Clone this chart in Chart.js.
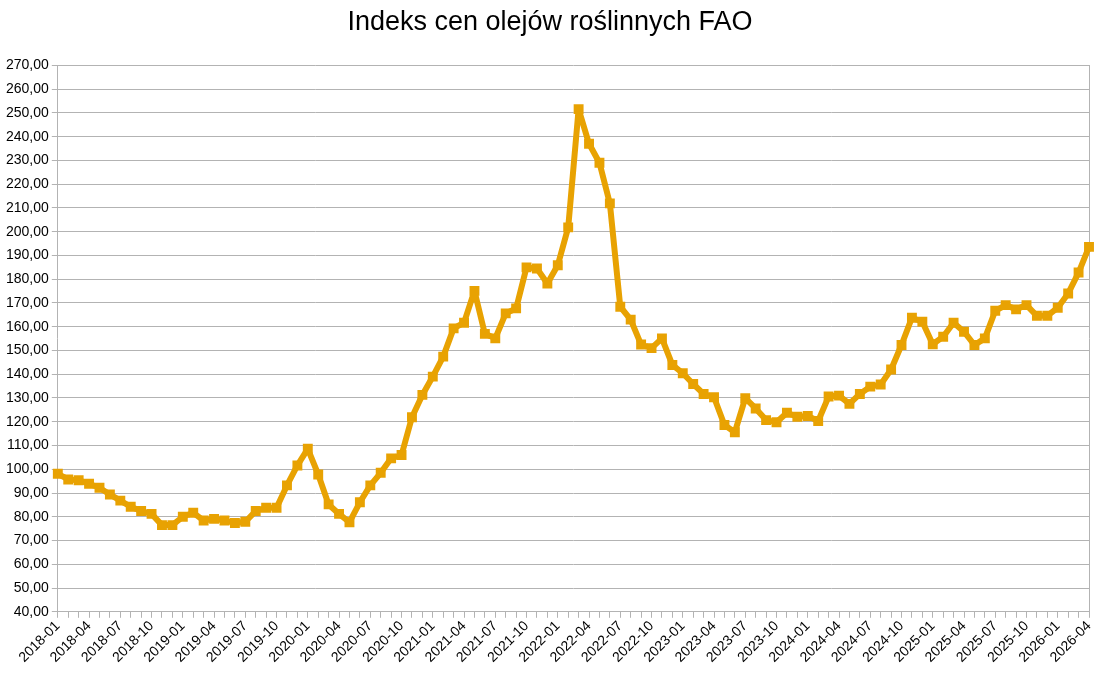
<!DOCTYPE html>
<html lang="pl">
<head>
<meta charset="utf-8">
<title>Indeks cen olejów roślinnych FAO</title>
<script src="https://cdn.jsdelivr.net/npm/chart.js@4/dist/chart.umd.min.js"></script>
<style>
  html, body { margin: 0; padding: 0; background: #fff; }
  #wrap { width: 1109px; height: 678px; }
</style>
</head>
<body>
<div id="wrap"><canvas id="chart"></canvas></div>
<script>
// Miesiące od 2018-01 do 2026-04
const startYear = 2018;
const monthCount = 100;
const months = [];
for (let i = 0; i < monthCount; i++) {
    const y = startYear + Math.floor(i / 12);
    const m = (i % 12) + 1;
    months.push(y + '-' + String(m).padStart(2, '0'));
}

// Wartości indeksu
const values2018 = [98.1, 95.7, 95.4, 93.9, 92.2, 89.4, 86.8, 84.2, 82.4, 81.2, 76.5, 76.5];
const values2019 = [80.0, 81.7, 78.4, 79.1, 78.4, 77.4, 77.9, 82.4, 83.8, 83.8, 93.2, 101.6];
const values2020 = [108.6, 97.8, 85.2, 81.2, 77.7, 86.1, 93.2, 98.5, 104.6, 106.0, 121.9, 131.3];
const values2021 = [139.0, 147.4, 159.3, 161.7, 175.1, 157.0, 155.1, 165.6, 167.7, 185.0, 184.5, 178.2];
const values2022 = [185.9, 201.8, 251.6, 237.0, 229.0, 211.9, 168.4, 163.0, 152.5, 151.0, 155.1, 143.9];
const values2023 = [140.4, 135.9, 131.7, 130.3, 118.6, 115.6, 129.9, 125.6, 120.7, 119.8, 123.8, 122.1];
const values2024 = [122.4, 120.3, 130.6, 131.0, 127.5, 131.7, 134.8, 135.7, 142.0, 152.3, 163.8, 162.1];
const values2025 = [152.6, 155.8, 161.7, 157.9, 152.3, 155.1, 166.7, 169.1, 167.3, 169.1, 164.6, 164.6];
const values2026 = [168.0, 174.0, 182.8, 193.6];

const indexValues = [].concat(values2018, values2019, values2020, values2021,
    values2022, values2023, values2024, values2025, values2026);

const yMin = 40;
const yMax = 270;
const yStep = 10;

const lineColor = '#E8A202';
const gridColor = '#b3b3b3';
const fontFamily = 'Liberation Sans, Arial, sans-serif';

new Chart(document.getElementById('chart'), {
    type: 'line',
    data: {
        labels: months,
        datasets: [{
            label: 'Indeks cen olejów roślinnych FAO',
            data: indexValues,
            borderColor: lineColor,
            backgroundColor: lineColor,
            borderWidth: 6,
            borderJoinStyle: 'round',
            pointStyle: 'rect',
            pointRadius: 7,
            pointHoverRadius: 7,
            pointBorderWidth: 0,
            tension: 0
        }]
    },
    options: {
        responsive: true,
        maintainAspectRatio: false,
        animation: false,
        layout: {
            padding: { left: 3, right: 12, top: 4, bottom: 12 }
        },
        plugins: {
            legend: { display: false },
            tooltip: { enabled: false },
            title: {
                display: true,
                text: 'Indeks cen olejów roślinnych FAO',
                color: '#000',
                font: { family: fontFamily, size: 27, weight: 'normal' },
                padding: { top: 2, bottom: 27 }
            }
        },
        scales: {
            x: {
                offset: false,
                grid: {
                    drawOnChartArea: false,
                    color: gridColor,
                    tickLength: 6
                },
                border: { color: gridColor, width: 1 },
                ticks: {
                    autoSkip: false,
                    maxRotation: 45,
                    minRotation: 45,
                    color: '#000',
                    padding: 0,
                    font: { family: fontFamily, size: 14 },
                    callback: function (value, index) {
                        return index % 3 === 0 ? months[index] : '';
                    }
                }
            },
            y: {
                min: yMin,
                max: yMax,
                grid: {
                    color: gridColor,
                    tickLength: 6
                },
                border: { color: gridColor, width: 1 },
                ticks: {
                    stepSize: yStep,
                    color: '#000',
                    padding: 3,
                    font: { family: fontFamily, size: 14 },
                    callback: function (value) {
                        return value.toFixed(2).replace('.', ',');
                    }
                }
            },
            yRight: {
                position: 'right',
                min: yMin,
                max: yMax,
                grid: { display: false },
                border: { color: gridColor, width: 1 },
                ticks: { display: false }
            }
        }
    }
});
</script>
</body>
</html>
